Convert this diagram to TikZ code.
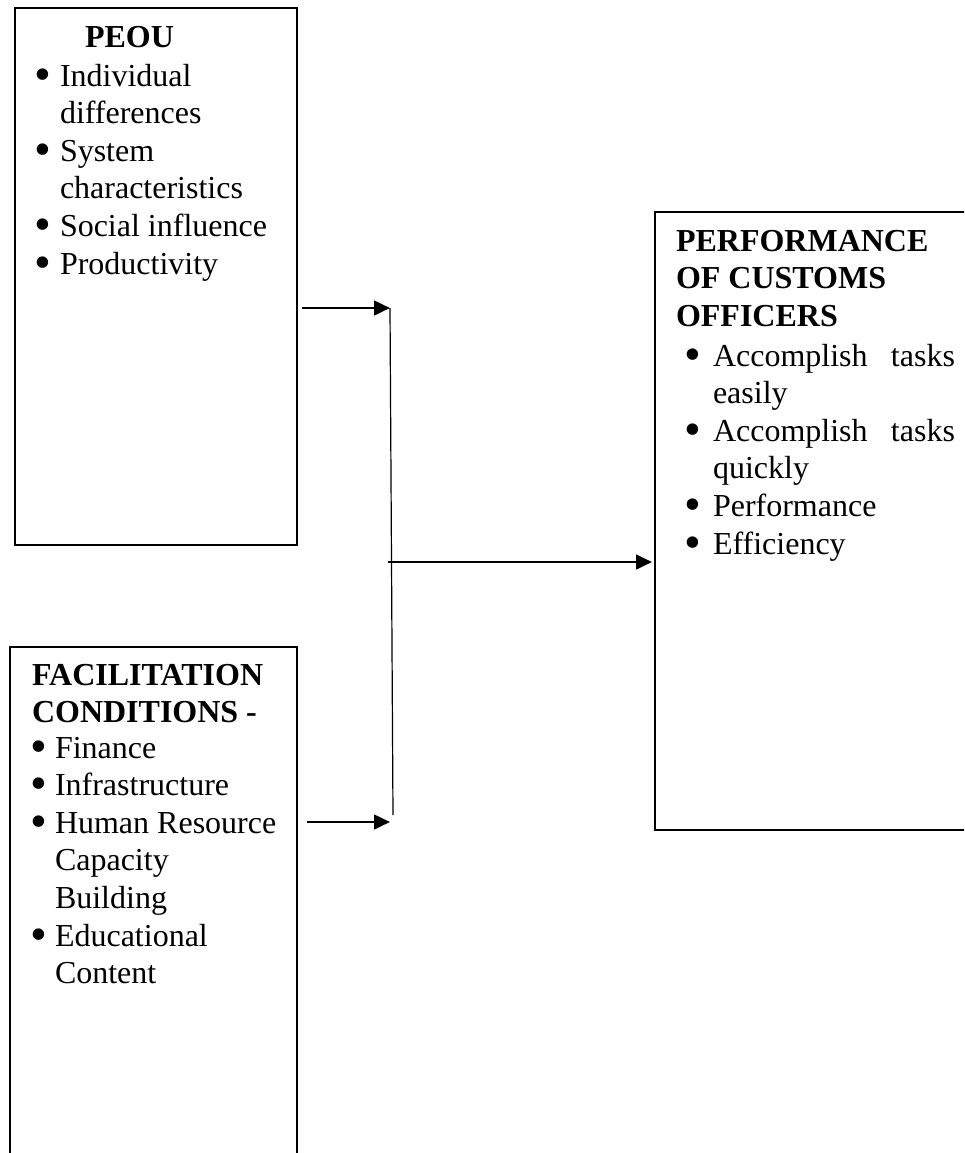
\documentclass[tikz,border=0pt]{standalone}
\usepackage{fontspec}
\usepackage{graphicx}
\setmainfont{Liberation Serif}
\usetikzlibrary{arrows.meta}
\newcommand\fs{\fontsize{24pt}{28.2pt}\selectfont}
\newcommand\bul[1]{\leavevmode\llap{\raisebox{-0.13em}{\scalebox{1.5}{\textbullet}}\hspace{#1}}}
\begin{document}
\begin{tikzpicture}[x=0.75pt,y=-0.75pt,
  box/.style={draw, line width=1.3pt, rectangle, inner sep=0pt, outer sep=0pt},
  txt/.style={anchor=base west, inner sep=0pt, outer sep=0pt, font=\fs},
  arr/.style={line width=2pt, -{Triangle[length=12pt,width=11pt]}},
  link/.style={line width=0.9pt}]
\fill[white] (0,0) rectangle (964,1153);
\clip (0,0) rectangle (964,1153);
% boxes
\node[box, minimum width=211.5pt, minimum height=402.75pt] (peou) at (156,276.5) {};
\node[box, minimum width=258.75pt, minimum height=463.5pt] (perf) at (827.5,521) {};
\node[box, minimum width=215.25pt, minimum height=414.75pt] (fc) at (153.5,923.5) {};
% PEOU text
\node[txt] (peouhead) at (85,47) {\bfseries PEOU};
\node[txt] (peoulist) at (60,86) {\parbox[t]{220pt}{\raggedright
\bul{6.5pt}Individual\\
differences\\
\bul{6.5pt}System\\
characteristics\\
\bul{6.5pt}Social influence\\
\bul{6.5pt}Productivity}};
% Performance text
\node[txt] (perfhead) at (676,251) {\parbox[t]{260pt}{\raggedright\bfseries
PERFORMANCE\\
OF CUSTOMS\\
OFFICERS}};
\node[txt] (perflist) at (713,366) {\parbox[t]{181.5pt}{\raggedright
\bul{8.5pt}\makebox[181.5pt][s]{Accomplish tasks}\\
easily\\
\bul{8.5pt}\makebox[181.5pt][s]{Accomplish tasks}\\
quickly\\
\bul{8.5pt}Performance\\
\bul{8.5pt}Efficiency}};
% Facilitation text
\node[txt] (fchead) at (32,685) {\parbox[t]{230pt}{\raggedright\bfseries
\fontsize{24pt}{27.75pt}\selectfont
FACILITATION\\
CONDITIONS -}};
\node[txt] (fclist) at (55,758) {\parbox[t]{230pt}{\raggedright
\bul{5.5pt}Finance\\
\bul{5.5pt}Infrastructure\\
\bul{5.5pt}Human Resource\\
Capacity\\
Building\\
\bul{5.5pt}Educational\\
Content}};
% connectors
\coordinate (jt) at (390,308);
\coordinate (jb) at (393,815);
\coordinate (jbb) at (390,822);
\coordinate (jm) at (388,562);
\draw[arr, shorten <=3.75pt] (peou.east |- jt) -- (jt);
\draw[arr, shorten <=7.5pt] (fc.east |- jbb) -- (jbb);
\draw[link] (jt) -- (jb);
\draw[arr, shorten >=2.25pt] (jm) -- (perf.west |- jm);
\end{tikzpicture}
\end{document}
